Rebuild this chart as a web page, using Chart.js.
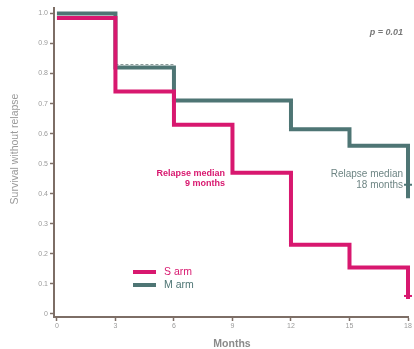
<!DOCTYPE html>
<html>
<head>
<meta charset="utf-8">
<script src="https://cdn.jsdelivr.net/npm/chart.js@4.4.1/dist/chart.umd.min.js"></script>
<style>
  html, body { margin: 0; padding: 0; background: #ffffff; }
  #grafico { display: block; }
</style>
</head>
<body>
<canvas id="grafico" width="414" height="349"></canvas>
<script>
// Datos (supervivencia sin recaída)
const meses = [0, 3, 6, 9, 12, 15, 18];
const brazoS = [0.985, 0.74, 0.63, 0.47, 0.23, 0.155, 0.05];
const brazoM = [1.0, 0.82, 0.71, 0.71, 0.615, 0.56, 0.385];

// Línea discontinua fina sobre el brazo M (3-6 meses)
const mesesDiscontinua = [3, 6];
const valoresDiscontinua = [0.83, 0.71];

// Marcas de censura al final
const censuraMes = [18];
const censuraS = [0.06];
const censuraM = [0.43];

// Etiquetas de los ejes
const ticksX = [0, 3, 6, 9, 12, 15, 18];
const ticksY = [0, 0.1, 0.2, 0.3, 0.4, 0.5, 0.6, 0.7, 0.8, 0.9, 1.0];
const etiquetasY = ['0', '0.1', '0.2', '0.3', '0.4', '0.5', '0.6', '0.7', '0.8', '0.9', '1.0'];

const colorS = '#d8186f';
const colorM = '#4e7574';
const colorEje = '#7d6e66';
const colorTexto = '#9a9a9a';

function puntos(xs, ys) {
    return xs.map((x, i) => ({ x: x, y: ys[i] }));
}

// Dibuja textos y leyenda encima del gráfico
const textosPlugin = {
    id: 'textos',
    afterDraw(chart) {
        const ctx = chart.ctx;
        ctx.save();

        // Título del eje Y
        ctx.translate(15, 149);
        ctx.rotate(-Math.PI / 2);
        ctx.fillStyle = colorTexto;
        ctx.font = '10.5px "Liberation Sans", Arial, sans-serif';
        ctx.textAlign = 'center';
        ctx.textBaseline = 'middle';
        ctx.fillText('Survival without relapse', 0, 0);
        ctx.setTransform(1, 0, 0, 1, 0, 0);

        // Título del eje X
        ctx.fillStyle = '#8a8a8a';
        ctx.font = 'bold 10.5px "Liberation Sans", Arial, sans-serif';
        ctx.fillText('Months', 232, 344);

        // Valor p
        ctx.textAlign = 'right';
        ctx.fillStyle = '#777777';
        ctx.font = 'italic bold 9px "Liberation Sans", Arial, sans-serif';
        ctx.fillText('p = 0.01', 403, 33);

        // Medianas
        ctx.fillStyle = colorS;
        ctx.font = 'bold 9px "Liberation Sans", Arial, sans-serif';
        ctx.fillText('Relapse median', 225, 174);
        ctx.fillText('9 months', 225, 184);

        ctx.fillStyle = '#6e8584';
        ctx.font = '10px "Liberation Sans", Arial, sans-serif';
        ctx.fillText('Relapse median', 403, 174);
        ctx.fillText('18 months', 403, 185);

        // Leyenda
        ctx.lineWidth = 4;
        ctx.strokeStyle = colorS;
        ctx.beginPath(); ctx.moveTo(133, 272); ctx.lineTo(156, 272); ctx.stroke();
        ctx.strokeStyle = colorM;
        ctx.beginPath(); ctx.moveTo(133, 285); ctx.lineTo(156, 285); ctx.stroke();

        ctx.textAlign = 'left';
        ctx.font = '10.5px "Liberation Sans", Arial, sans-serif';
        ctx.fillStyle = colorS;
        ctx.fillText('S arm', 164, 272);
        ctx.fillStyle = colorM;
        ctx.fillText('M arm', 164, 285);

        ctx.restore();
    }
};

const grafico = new Chart(document.getElementById('grafico').getContext('2d'), {
    type: 'line',
    data: {
        datasets: [
            {
                label: 'S arm',
                data: puntos(meses, brazoS),
                stepped: true,
                borderColor: colorS,
                borderWidth: 4,
                pointRadius: 0,
                fill: false,
                clip: false,
                borderJoinStyle: 'miter'
            },
            {
                label: 'M arm',
                data: puntos(meses, brazoM),
                stepped: true,
                borderColor: colorM,
                borderWidth: 4,
                pointRadius: 0,
                fill: false,
                clip: false,
                borderJoinStyle: 'miter'
            },
            {
                label: 'discontinua',
                data: puntos(mesesDiscontinua, valoresDiscontinua),
                stepped: true,
                borderColor: '#8c9c9a',
                borderWidth: 1,
                borderDash: [3, 2],
                pointRadius: 0,
                fill: false,
                clip: false
            },
            {
                label: 'censura S',
                type: 'scatter',
                data: puntos(censuraMes, censuraS),
                pointStyle: 'line',
                pointRadius: 4,
                borderWidth: 2,
                borderColor: colorS,
                clip: false
            },
            {
                label: 'censura M',
                type: 'scatter',
                data: puntos(censuraMes, censuraM),
                pointStyle: 'line',
                pointRadius: 4,
                borderWidth: 2,
                borderColor: colorM,
                clip: false
            }
        ]
    },
    options: {
        responsive: false,
        devicePixelRatio: 1,
        animation: false,
        layout: { padding: { top: 8, right: 5, left: 0, bottom: 0 } },
        plugins: {
            legend: { display: false },
            tooltip: { enabled: false }
        },
        scales: {
            x: {
                type: 'linear',
                min: -0.15,
                max: 18,
                afterBuildTicks: (s) => { s.ticks = ticksX.map(v => ({ value: v })); },
                afterFit: (s) => { s.height = 32; },
                border: { color: colorEje, width: 2 },
                grid: { drawOnChartArea: false, drawTicks: true, tickLength: 4, tickColor: colorEje, tickWidth: 1.5 },
                ticks: {
                    color: colorTexto,
                    font: { size: 7, family: '"Liberation Sans", Arial, sans-serif' },
                    padding: 1,
                    maxRotation: 0,
                    callback: (v) => String(v)
                }
            },
            y: {
                type: 'linear',
                min: -0.01,
                max: 1.018,
                afterBuildTicks: (s) => { s.ticks = ticksY.map(v => ({ value: v })); },
                afterFit: (s) => { s.width = 54; },
                border: { color: colorEje, width: 2 },
                grid: { drawOnChartArea: false, drawTicks: true, tickLength: 4, tickColor: colorEje, tickWidth: 1.5 },
                ticks: {
                    color: colorTexto,
                    font: { size: 7, family: '"Liberation Sans", Arial, sans-serif' },
                    padding: 2,
                    callback: (v, i) => etiquetasY[i]
                }
            }
        }
    },
    plugins: [textosPlugin]
});
</script>
</body>
</html>
